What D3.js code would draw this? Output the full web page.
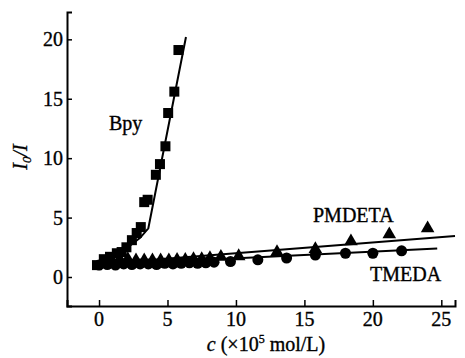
<!DOCTYPE html>
<html>
<head>
<meta charset="utf-8">
<script src="https://cdn.jsdelivr.net/npm/d3@7"></script>
<style>
  body { margin: 0; background: #fff; }
  svg text { font-family: "Liberation Serif", "Times New Roman", serif; fill: #000; stroke: #000; stroke-width: 0.35px; }
</style>
</head>
<body>
<div id="chart"></div>
<script>
// Stern-Volmer style plot, I0/I vs concentration for three ligands

// Bpy (squares)
const bpyX = [-0.15, 0.35, 0.8, 1.3, 1.65, 2.0, 2.4, 2.75, 3.05, 3.3, 3.55, 4.15, 4.45, 4.85, 5.05, 5.5, 5.8];
const bpyY = [1.0, 1.5, 1.7, 2.0, 2.1, 2.5, 3.1, 3.7, 4.2, 6.3, 6.5, 8.6, 9.5, 11.0, 13.8, 15.6, 19.1];
const bpyFitX = [0, 1, 2, 3, 3.6, 6.35];
const bpyFitY = [1.0, 1.6, 2.4, 3.3, 4.1, 20.2];

// PMDETA (triangles)
const pmdetaX = [0.3, 0.9, 1.5, 2.1, 2.7, 3.3, 3.9, 4.5, 5.1, 5.7, 6.3, 6.9, 7.5, 8.1, 8.9, 10.2, 13.0, 15.8, 18.4, 21.2, 24.0];
const pmdetaY = [1.2, 1.4, 1.5, 1.5, 1.4, 1.4, 1.4, 1.4, 1.4, 1.45, 1.45, 1.5, 1.5, 1.6, 1.7, 1.75, 2.1, 2.35, 3.0, 3.6, 4.1];
const pmdetaFitX = [0, 26.0];
const pmdetaFitY = [1.1, 3.45];

// TMEDA (circles)
const tmedaX = [0, 0.6, 1.2, 1.8, 2.4, 3.0, 3.6, 4.2, 4.8, 5.4, 6.0, 6.6, 7.2, 7.8, 8.4, 9.6, 11.6, 13.7, 15.8, 18.0, 20.0, 22.1];
const tmedaY = [1.0, 1.05, 1.0, 1.1, 1.05, 1.1, 1.1, 1.05, 1.15, 1.1, 1.15, 1.2, 1.15, 1.2, 1.25, 1.3, 1.45, 1.6, 1.85, 2.0, 2.0, 2.2];
const tmedaFitX = [0, 24.7];
const tmedaFitY = [1.0, 2.4];

const xTicks = [0, 5, 10, 15, 20, 25];
const yTicks = [0, 5, 10, 15, 20];

const width = 465, height = 358;

const svg = d3.select("#chart").append("svg")
    .attr("width", width)
    .attr("height", height);

const x = d3.scaleLinear().domain([-2.34, 26.0]).range([67, 455]);
const y = d3.scaleLinear().domain([-2.44, 22.3]).range([306, 12]);

const zip = (xs, ys) => xs.map((v, i) => [v, ys[i]]);

// axes, ticks pointing inward
const xAxis = svg.append("g")
    .attr("transform", "translate(0," + y(-2.44) + ")")
    .call(d3.axisTop(x).tickValues(xTicks).tickSize(6).tickFormat(""));
xAxis.select(".domain").attr("stroke-width", 2);
xAxis.selectAll(".tick line").attr("stroke-width", 1.5);

const yAxis = svg.append("g")
    .attr("transform", "translate(" + x(-2.34) + ",0)")
    .call(d3.axisRight(y).tickValues(yTicks).tickSize(5).tickFormat(""));
yAxis.select(".domain").attr("stroke-width", 2);
yAxis.selectAll(".tick line").attr("stroke-width", 1.5);

// tick labels
svg.selectAll(".xlab")
    .data(xTicks)
    .enter().append("text")
    .attr("x", d => x(d))
    .attr("y", 326)
    .attr("text-anchor", "middle")
    .style("font-size", "20px")
    .text(d => d);

svg.selectAll(".ylab")
    .data(yTicks)
    .enter().append("text")
    .attr("x", 63)
    .attr("y", d => y(d) + 7)
    .attr("text-anchor", "end")
    .style("font-size", "20px")
    .text(d => d);

// axis titles
const xt = svg.append("text")
    .attr("x", 266)
    .attr("y", 351)
    .attr("text-anchor", "middle")
    .style("font-size", "20px");
xt.append("tspan").style("font-style", "italic").text("c");
xt.append("tspan").text(" (\u00d710");
xt.append("tspan").attr("dy", -8).style("font-size", "12px").text("5");
xt.append("tspan").attr("dy", 8).text(" mol/L)");

const yt = svg.append("text")
    .attr("transform", "translate(27,157) rotate(-90)")
    .attr("text-anchor", "middle")
    .style("font-size", "20px")
    .style("font-style", "italic");
yt.append("tspan").text("I");
yt.append("tspan").attr("dy", 4).style("font-size", "13px").text("0");
yt.append("tspan").attr("dy", -4).text("/I");

// fit lines
const line = d3.line().x(d => x(d[0])).y(d => y(d[1]));
[[bpyFitX, bpyFitY], [pmdetaFitX, pmdetaFitY], [tmedaFitX, tmedaFitY]].forEach(f => {
    svg.append("path")
        .datum(zip(f[0], f[1]))
        .attr("d", line)
        .attr("fill", "none")
        .attr("stroke", "#000")
        .attr("stroke-width", 2);
});

// markers
svg.selectAll(".tri")
    .data(zip(pmdetaX, pmdetaY))
    .enter().append("path")
    .attr("transform", d => "translate(" + x(d[0]) + "," + y(d[1]) + ")")
    .attr("d", d3.symbol().type(d3.symbolTriangle).size(80))
    .attr("fill", "#000");

svg.selectAll(".circ")
    .data(zip(tmedaX, tmedaY))
    .enter().append("circle")
    .attr("cx", d => x(d[0]))
    .attr("cy", d => y(d[1]))
    .attr("r", 5.5)
    .attr("fill", "#000");

svg.selectAll(".sq")
    .data(zip(bpyX, bpyY))
    .enter().append("rect")
    .attr("x", d => x(d[0]) - 5)
    .attr("y", d => y(d[1]) - 5)
    .attr("width", 10)
    .attr("height", 10)
    .attr("fill", "#000");

// series labels
svg.append("text").attr("x", 109).attr("y", 130).style("font-size", "20px").text("Bpy");
svg.append("text").attr("x", 313).attr("y", 222).style("font-size", "20px").text("PMDETA");
svg.append("text").attr("x", 370).attr("y", 281).style("font-size", "20px").text("TMEDA");
</script>
</body>
</html>
